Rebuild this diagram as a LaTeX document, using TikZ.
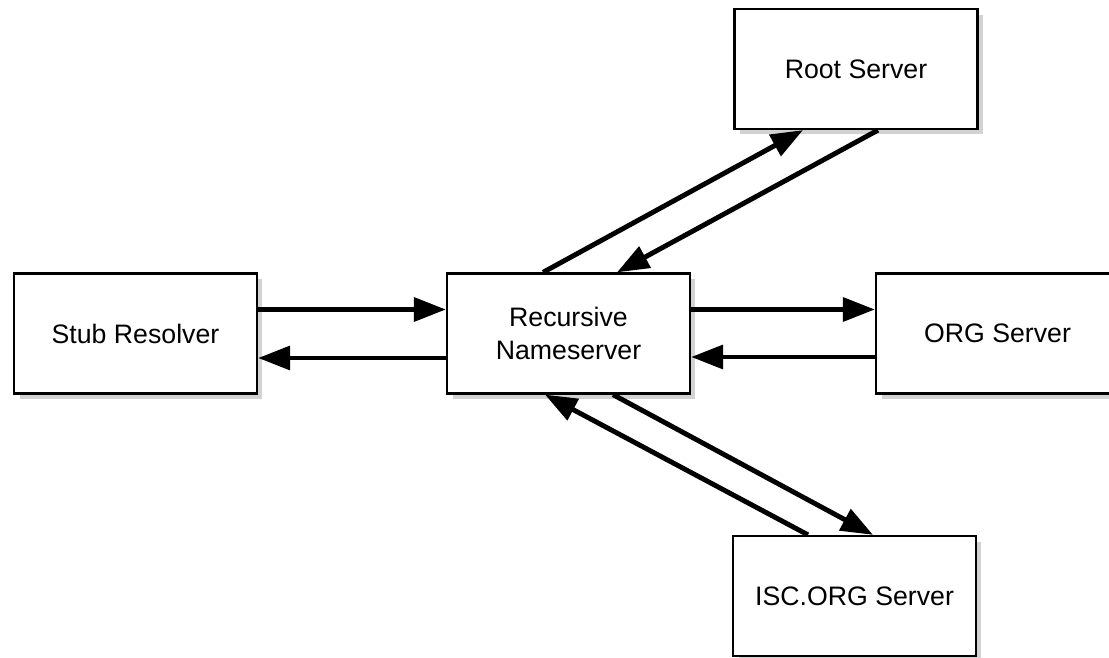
\documentclass[tikz,border=0pt]{standalone}
\usepackage{fontspec}
\setmainfont{Liberation Sans}
\usetikzlibrary{calc,positioning,arrows.meta,shadows}

\begin{document}
\begin{tikzpicture}[x=0.02cm, y=-0.02cm]
\tikzstyle{server}=[rectangle, draw, line width=1.3pt, fill=white,
                    minimum width=4.86cm, minimum height=2.4cm, align=center,
                    font=\fontsize{15.2}{19.3}\selectfont,
                    drop shadow={shadow xshift=0.11cm, shadow yshift=-0.11cm, fill=black!35}]
\tikzstyle{msg}=[line width=2.8pt, -{Triangle[length=0.64cm, width=0.47cm]}]
\useasboundingbox (0,0) rectangle (1109,658);
\clip (0,0) rectangle (1109,658);
\node[server] (stub) at (135.5,333.5) {Stub Resolver};
\node[server] (rec) at (568.5,333.5) {Recursive\\Nameserver};
\node[server] (root) at (856,69) {Root Server};
\node[server] (org) at (997.5,333.5) {ORG Server};
\node[server] (isc) at (854.5,596) {ISC.ORG Server};
% stub <-> recursive
\draw[msg] ($(stub.east)+(0,-24)$) -- ($(rec.west)+(0,-24)$);
\draw[msg] ($(rec.west)+(0,24.5)$) -- ($(stub.east)+(0,24.5)$);
% recursive <-> org
\draw[msg] ($(rec.east)+(0,-24)$) -- ($(org.west)+(0,-24)$);
\draw[msg] ($(org.west)+(0,23.5)$) -- ($(rec.east)+(0,23.5)$);
% recursive <-> root
\draw[msg] ($(rec.north)+(-25.5,0)$) -- ($(root.south)+(-53,0)$);
\draw[msg] ($(root.south)+(22,0)$) -- ($(rec.north)+(48.5,0)$);
% recursive <-> isc.org
\draw[msg] ($(rec.south)+(44.5,0)$) -- ($(isc.north)+(18.5,0)$);
\draw[msg] ($(isc.north)+(-46.5,0)$) -- ($(rec.south)+(-23.5,0)$);
\end{tikzpicture}
\end{document}
